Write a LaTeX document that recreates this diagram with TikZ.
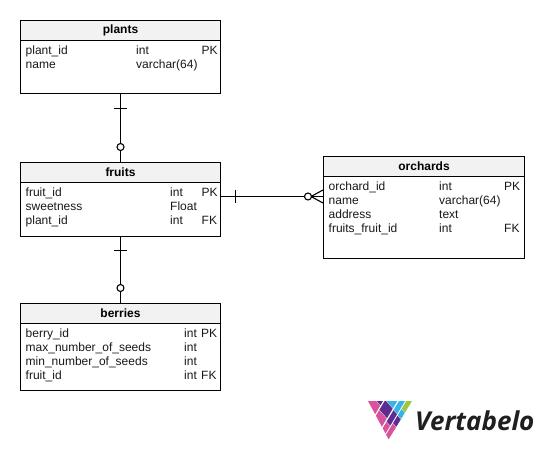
\documentclass[tikz,border=0pt]{standalone}
\usepackage{fontspec}
\setmainfont{Liberation Sans}
\newfontfamily\logofont{Open Sans}
\definecolor{hdr}{HTML}{F2F2F2}
\definecolor{lpink}{HTML}{D9529A}
\definecolor{lpurple}{HTML}{5E2D91}
\definecolor{lblue}{HTML}{35B5E5}
\definecolor{lgreen}{HTML}{9CC63F}
\tikzset{
 tbl/.style={draw=black,fill=white,line width=1.1pt},
 hdrbox/.style={draw=black,fill=hdr,line width=1.1pt},
 ttl/.style={font=\fontsize{12}{14}\selectfont\bfseries,inner sep=0pt},
 cell/.style={font=\fontsize{12}{14}\selectfont,inner sep=0pt,anchor=base west,text=black!90},
 conn/.style={line width=1.1pt,draw=black},
 ring/.style={circle,draw=black,fill=white,line width=1.1pt,minimum size=7pt,inner sep=0pt},
 tick/.style={line width=1.1pt,draw=black}
}
\newcommand{\erbox}[7]{%
 \path[tbl] (#2,#3) rectangle (#4,#6);
 \path[hdrbox] (#2,#3) rectangle (#4,#5);
 \node[ttl] (#1) at ({(#2+#4)/2},{(#3+#5)/2}) {#7};
}
\newcommand{\row}[2]{\node[cell] at (#1) {#2};}
\newcommand{\lcell}[5]{%
 \pgfmathsetmacro{\ya}{(#1-#3)/1.5}\pgfmathsetmacro{\xa}{#1-0.6*\ya}%
 \pgfmathsetmacro{\yb}{(#2-#3)/1.5}\pgfmathsetmacro{\xb}{#2-0.6*\yb}%
 \pgfmathsetmacro{\yc}{(#2-#4)/1.5}\pgfmathsetmacro{\xc}{#2-0.6*\yc}%
 \pgfmathsetmacro{\yd}{(#1-#4)/1.5}\pgfmathsetmacro{\xd}{#1-0.6*\yd}%
 \fill[#5] (\xa,\ya) -- (\xb,\yb) -- (\xc,\yc) -- (\xd,\yd) -- cycle;
}
\begin{document}
\begin{tikzpicture}[x=1pt,y=-1pt]
\useasboundingbox (0,0) rectangle (543,450);
\fill[white] (0,0) rectangle (543,450);
\coordinate (c1a) at (120.5,93);
\coordinate (c1b) at (120.5,162);
\draw[conn] (c1a) -- (c1b);
\draw[tick] (114,108.5) -- (127,108.5);
\node[ring] (r1) at (120.5,147) {};
\coordinate (c2a) at (120.5,236);
\coordinate (c2b) at (120.5,303);
\draw[conn] (c2a) -- (c2b);
\draw[tick] (114,250.5) -- (127,250.5);
\node[ring] (r2) at (120.5,288) {};
\coordinate (c3a) at (220,196.5);
\coordinate (c3b) at (323,196.5);
\draw[conn] (c3a) -- (c3b);
\draw[tick] (235.5,190) -- (235.5,203);
\draw[conn] (323,190) -- (311,196.5) -- (323,203);
\node[ring] (r3) at (308,196.5) {};
\erbox{plants}{20.5}{20.5}{220.5}{40.5}{93.5}{plants}
\row{25.5,54}{plant\_id}\row{136,54}{int}\row{201.5,54}{PK}
\row{25.5,68}{name}\row{136,68}{varchar(64)}
\erbox{fruits}{20.5}{162.5}{220.5}{182.5}{236.5}{fruits}
\row{25.5,196}{fruit\_id}\row{170,196}{int}\row{201.5,196}{PK}
\row{25.5,210}{sweetness}\row{170,210}{Float}
\row{25.5,224}{plant\_id}\row{170,224}{int}\row{201.5,224}{FK}
\erbox{orchards}{323.5}{156.5}{524.5}{176.5}{258.5}{orchards}
\row{328.5,190}{orchard\_id}\row{439,190}{int}\row{504,190}{PK}
\row{328.5,204}{name}\row{439,204}{varchar(64)}
\row{328.5,218}{address}\row{439,218}{text}
\row{328.5,232}{fruits\_fruit\_id}\row{439,232}{int}\row{504,232}{FK}
\erbox{berries}{20.5}{303.5}{220.5}{323.5}{390.5}{berries}
\row{25.5,337}{berry\_id}\row{184,337}{int}\row{201,337}{PK}
\row{25.5,351}{max\_number\_of\_seeds}\row{184,351}{int}
\row{25.5,365}{min\_number\_of\_seeds}\row{184,365}{int}
\row{25.5,379}{fruit\_id}\row{184,379}{int}\row{201,379}{FK}
\begin{scope}[shift={(362pt,-396pt)},x=0.3333pt,y=-0.3333pt]
\clip (18,15) -- (150,15) -- (80,130) -- cycle;
\lcell{20}{72}{30}{200}{lpurple}
\lcell{20}{72}{-100}{28}{lpink}
\lcell{77}{115}{60}{200}{lblue}
\lcell{77}{115}{15}{58}{lpurple}
\lcell{77}{115}{-100}{13}{lpink}
\lcell{120}{138}{58}{200}{lblue}
\lcell{120}{138}{5}{56}{lpurple}
\lcell{120}{138}{-100}{3}{lpink}
\lcell{142}{165}{85}{200}{lgreen}
\lcell{142}{165}{55}{83}{lblue}
\lcell{142}{165}{20}{53}{lpurple}
\lcell{142}{165}{-100}{18}{lpink}
\end{scope}
\node[font=\logofont\bfseries\itshape\fontsize{26}{28}\selectfont,text=black!88,anchor=base west,inner sep=0pt] (logo) at (415,430) {Vertabelo};
\end{tikzpicture}
\end{document}
